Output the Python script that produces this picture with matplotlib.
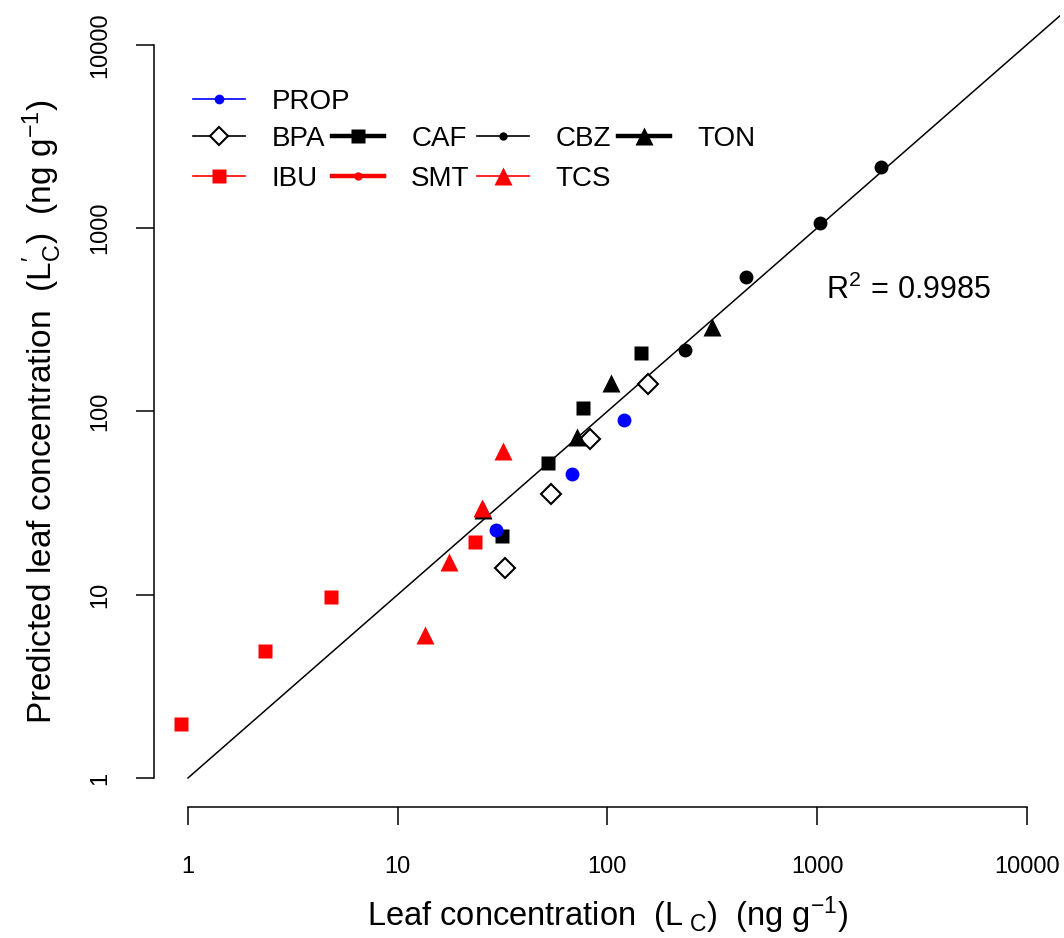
import numpy as np
import matplotlib
matplotlib.use("Agg")
import matplotlib.pyplot as plt
from matplotlib.lines import Line2D

plt.rcParams['font.family'] = ['Liberation Sans', 'DejaVu Sans']
plt.rcParams['mathtext.fontset'] = 'custom'
plt.rcParams['mathtext.rm'] = 'Liberation Sans'
plt.rcParams['mathtext.it'] = 'Liberation Sans:italic'
plt.rcParams['mathtext.bf'] = 'Liberation Sans:bold'

# measured (x) vs predicted (y) leaf concentrations, ng/g
prop_x = [29.4, 67.8, 120.0]
prop_y = [22.5, 45.5, 89.8]
bpa_x = [32.5, 53.8, 82.6, 156.0]
bpa_y = [14.0, 35.4, 70.7, 141.0]
caf_x = [31.4, 52.1, 76.5, 145.0]
caf_y = [20.9, 52.3, 104.0, 208.0]
cbz_x = [234.0, 458.0, 1032.0, 2017.0]
cbz_y = [216.0, 541.0, 1066.0, 2154.0]
ton_x = [25.5, 71.6, 104.0, 315.0]
ton_y = [29.0, 72.5, 143.0, 289.0]
ibu_x = [0.926, 2.33, 4.81, 23.4]
ibu_y = [1.97, 4.93, 9.71, 19.4]
smt_x = []
smt_y = []
tcs_x = [13.5, 17.6, 25.2, 31.8]
tcs_y = [6.03, 15.1, 29.7, 60.8]

ticks = [1, 10, 100, 1000, 10000]
tick_labels = ['1', '10', '100', '1000', '10000']
r2_text = r'R$^{2}$$\,=\,$0.9985'

fig = plt.figure(figsize=(10.64, 9.38), dpi=100)
ax = fig.add_axes([0.1451, 0.1393, 0.8514, 0.8442])
lo, hi = 10 ** -0.16, 10 ** 4.16
ax.set_xscale('log')
ax.set_yscale('log')
ax.set_xlim(lo, hi)
ax.set_ylim(lo, hi)

# 1:1 line
ax.plot([1, 20000], [1, 20000], color='black', lw=1.1, zorder=1)

ax.plot(ibu_x, ibu_y, 's', color='red', ms=10, mec='none', zorder=3)
ax.plot(tcs_x, tcs_y, '^', color='red', ms=13, mec='none', zorder=4)
ax.plot(smt_x, smt_y, 'o', color='red', ms=6, mec='none', zorder=3)
ax.plot(bpa_x, bpa_y, 'D', mfc='white', mec='black', mew=1.5, ms=10, zorder=3)
ax.plot(caf_x, caf_y, 's', color='black', ms=10, mec='none', zorder=3)
ax.plot(ton_x, ton_y, '^', color='black', ms=13, mec='none', zorder=3)
ax.plot(cbz_x, cbz_y, 'o', color='black', ms=10, mec='none', zorder=3)
ax.plot(prop_x, prop_y, 'o', color='blue', ms=10, mec='none', zorder=4)

ax.text(1100, 459, r2_text, fontsize=22, ha='left', va='center')

for s in ['top', 'right']:
    ax.spines[s].set_visible(False)
for s in ['left', 'bottom']:
    ax.spines[s].set_bounds(1, 10000)
    ax.spines[s].set_linewidth(1.1)
ax.set_xticks(ticks)
ax.set_xticklabels(tick_labels)
ax.set_yticks(ticks)
ax.set_yticklabels(tick_labels)
ax.minorticks_off()
ax.tick_params(axis='both', length=13, width=1.1, labelsize=17)
ax.tick_params(axis='x', pad=22)
ax.tick_params(axis='y', pad=18, labelrotation=90)
for lab in ax.get_yticklabels():
    lab.set_va('center')

ax.set_xlabel(r'Leaf concentration  (L$_{\ \mathrm{C}}$)  (ng g$^{-1}$)', fontsize=23.5, labelpad=12)
ax.set_ylabel(r'Predicted leaf concentration  (L$^{\prime}_{\mathrm{C}}$)  (ng g$^{-1}$)', fontsize=24, labelpad=18)

thin, thick = 1.2, 3.2
h_prop = Line2D([], [], color='blue', lw=thin, marker='o', ms=7, mec='none')
h_bpa = Line2D([], [], color='black', lw=thin, marker='D', mfc='white', mec='black', mew=1.5, ms=9)
h_caf = Line2D([], [], color='black', lw=thick, marker='s', ms=10, mec='none')
h_cbz = Line2D([], [], color='black', lw=thin, marker='o', ms=6, mec='none')
h_ton = Line2D([], [], color='black', lw=thick, marker='^', ms=13, mec='none')
h_ibu = Line2D([], [], color='red', lw=thin, marker='s', ms=10, mec='none')
h_smt = Line2D([], [], color='red', lw=thick, marker='o', ms=6, mec='none')
h_tcs = Line2D([], [], color='red', lw=thin, marker='^', ms=13, mec='none')
h_blank = Line2D([], [], linestyle='none')

leg_kw = dict(frameon=False, fontsize=20, borderpad=0, borderaxespad=0,
              handlelength=1.87, handletextpad=0.97, columnspacing=0.25,
              labelspacing=0.5, numpoints=1, loc='upper left')
leg1 = fig.legend([h_prop], ['PROP'], bbox_to_anchor=(0.1814, 0.905), **leg_kw)
leg2 = fig.legend([h_bpa, h_ibu, h_caf, h_smt, h_cbz, h_tcs, h_ton, h_blank],
                  ['BPA', 'IBU', 'CAF', 'SMT', 'CBZ', 'TCS', 'TON', ''],
                  ncol=4, bbox_to_anchor=(0.1814, 0.866), **leg_kw)

fig.savefig('out.png', dpi=100)
